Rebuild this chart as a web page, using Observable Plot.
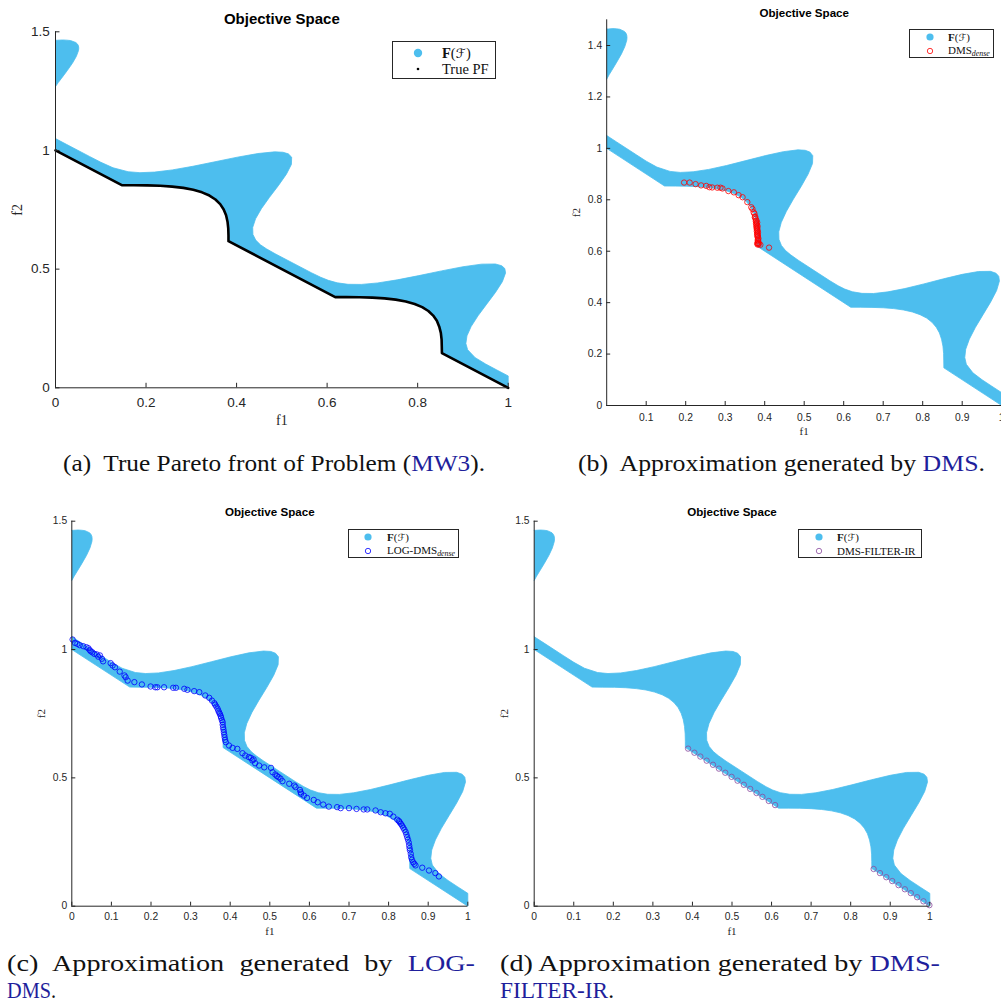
<!DOCTYPE html>
<html>
<head>
<meta charset="utf-8">
<script src="https://cdn.jsdelivr.net/npm/d3@7"></script>
<script src="https://cdn.jsdelivr.net/npm/@observablehq/plot@0.6"></script>
<style>
  html, body { margin: 0; padding: 0; background: #fff; overflow: hidden; }
  #fig { position: relative; width: 1001px; height: 1006px; overflow: hidden; background: #fff; }
  .panel { position: absolute; }
  .panel svg { max-width: none !important; overflow: visible; background: transparent; }
  .legend { position: absolute; box-sizing: border-box; border: 1px solid #262626; background: #fff;
            font-family: "Liberation Serif", "DejaVu Serif", serif; color: #111; }
  .legend .lab { position: absolute; white-space: nowrap; transform: translateY(-50%); line-height: 1; }
  .legend .mk { position: absolute; }
  .legend sub { font-size: 0.72em; font-style: italic; vertical-align: -0.25em; }
  .cal { font-family: "DejaVu Serif", "DejaVu Sans", serif; font-style: italic; font-size: 0.9em; }
  .cap { position: absolute; white-space: nowrap; font-family: "Liberation Serif", "Times New Roman", serif;
         font-size: 24px; line-height: 26px; color: #111; transform-origin: 0 50%; }
  .cap .lk { color: #1f1f9c; }
</style>
</head>
<body>
<div id="fig"></div>
<script>
// ---- feasible objective region (lower edge is the true Pareto front) ----
const pfF1 = [0, 0.1464, 0.1733, 0.2029, 0.2312, 0.2577, 0.2824, 0.3043, 0.3236, 0.34, 0.3533, 0.3638, 0.3715, 0.3768, 0.38, 0.3816, 0.3821, 0.3821,
              0.6179, 0.6421, 0.6716, 0.70, 0.7268, 0.7515, 0.7738, 0.7933, 0.81, 0.8236, 0.8343, 0.8424, 0.8477, 0.8512, 0.8529, 0.8533, 0.8536, 1];
const pfF2 = [1, 0.8536, 0.8533, 0.8529, 0.8512, 0.8477, 0.8424, 0.8343, 0.8236, 0.81, 0.7933, 0.7738, 0.7515, 0.7268, 0.70, 0.6716, 0.6421, 0.6179,
              0.3821, 0.3821, 0.3816, 0.38, 0.3768, 0.3715, 0.3638, 0.3533, 0.34, 0.3236, 0.3043, 0.2824, 0.2577, 0.2312, 0.2029, 0.1733, 0.1464, 0];

// upper edge of the main band, from the f1 = 0 side to the f1 = 1 side
const upperF1 = [0, 0.025, 0.075, 0.1002, 0.1271, 0.1604, 0.1865, 0.2189, 0.2581, 0.3033, 0.3524, 0.4018, 0.4471, 0.4842, 0.5025, 0.5143, 0.5217, 0.5211, 0.51, 0.4926,
                 0.4727, 0.4548, 0.4419, 0.4356, 0.4361, 0.4423, 0.4527, 0.4658, 0.485, 0.525, 0.565, 0.5858, 0.6027, 0.6223, 0.6461, 0.6756, 0.7119, 0.7548, 0.8027, 0.8526,
                 0.90, 0.9411, 0.9717, 0.9857, 0.9925, 0.9942, 0.9871, 0.9718, 0.9524, 0.9333, 0.9181, 0.9089, 0.9065, 0.9104, 0.9271, 0.9502, 0.975, 1];
const upperF2 = [1.05, 1.025, 0.975, 0.9502, 0.9271, 0.9104, 0.9065, 0.9089, 0.9181, 0.9333, 0.9524, 0.9718, 0.9871, 0.9942, 0.9925, 0.9857, 0.9717, 0.9411, 0.90, 0.8526,
                 0.8027, 0.7548, 0.7119, 0.6756, 0.6461, 0.6223, 0.6027, 0.5858, 0.565, 0.525, 0.485, 0.4658, 0.4527, 0.4423, 0.4361, 0.4356, 0.4419, 0.4548, 0.4727, 0.4926,
                 0.51, 0.5211, 0.5217, 0.5143, 0.5025, 0.4842, 0.4471, 0.4018, 0.3524, 0.3033, 0.2581, 0.2189, 0.1865, 0.1604, 0.1271, 0.1002, 0.075, 0.05];

// small disconnected feasible piece near f1 = 0
const islandF1 = [0, 0.006, 0.0127, 0.0256, 0.0373, 0.0459, 0.0508, 0.0514, 0.0507, 0.0485, 0.0449, 0.0332, 0.0248, 0.0157, 0.0045, 0];
const islandF2 = [1.269, 1.286, 1.3027, 1.3356, 1.3673, 1.3959, 1.4208, 1.4314, 1.4407, 1.4485, 1.4549, 1.4632, 1.4648, 1.4657, 1.4645, 1.464];

// ---- solver approximations ----
const dmsF1 = [0.196, 0.210, 0.225, 0.239, 0.252, 0.260, 0.267, 0.280, 0.288, 0.293, 0.308, 0.322, 0.334, 0.344, 0.356, 0.366, 0.369, 0.372, 0.374,
               0.375, 0.376, 0.377, 0.3775, 0.378, 0.379, 0.379, 0.380, 0.380, 0.381, 0.381, 0.382, 0.3825, 0.381, 0.385, 0.382, 0.389, 0.411,
               0.379, 0.381, 0.380, 0.382, 0.381, 0.382, 0.383, 0.382, 0.383, 0.384, 0.383, 0.384, 0.383, 0.384];
const dmsF2 = [0.867, 0.867, 0.861, 0.856, 0.854, 0.849, 0.848, 0.847, 0.847, 0.844, 0.834, 0.829, 0.818, 0.810, 0.791, 0.771, 0.764, 0.751, 0.746,
               0.732, 0.735, 0.726, 0.717, 0.709, 0.701, 0.694, 0.686, 0.678, 0.670, 0.662, 0.655, 0.642, 0.631, 0.629, 0.626, 0.625, 0.614,
               0.720, 0.712, 0.705, 0.697, 0.690, 0.682, 0.674, 0.666, 0.659, 0.650, 0.645, 0.638, 0.632, 0.627];

const logDmsF1 = [0.002, 0.008, 0.014, 0.020, 0.029, 0.037, 0.042, 0.048, 0.057, 0.063, 0.071, 0.076, 0.079, 0.098, 0.103, 0.109, 0.121, 0.133, 0.136, 0.141,
                  0.158, 0.177, 0.199, 0.211, 0.216, 0.233, 0.256, 0.263, 0.284, 0.292, 0.309, 0.322, 0.337, 0.347, 0.354, 0.360, 0.365, 0.370, 0.374, 0.377,
                  0.381, 0.382, 0.384, 0.386, 0.389, 0.397, 0.406, 0.418, 0.431, 0.438, 0.452, 0.456, 0.463, 0.473, 0.486, 0.503, 0.507, 0.514, 0.522, 0.532,
                  0.549, 0.562, 0.576, 0.579, 0.565, 0.578, 0.586, 0.594, 0.611, 0.621, 0.635, 0.649, 0.670, 0.679, 0.700, 0.719, 0.737, 0.746, 0.767, 0.780,
                  0.792, 0.803, 0.812, 0.822, 0.828, 0.834, 0.840, 0.845, 0.849, 0.852, 0.854, 0.857, 0.862, 0.868, 0.885, 0.902, 0.918, 0.927,
                  0.362, 0.368, 0.372, 0.376, 0.379, 0.381, 0.383, 0.385, 0.387, 0.826, 0.831, 0.837, 0.843, 0.847, 0.851, 0.853, 0.856, 0.859, 0.865,
                  0.045, 0.052, 0.067, 0.447, 0.459, 0.527, 0.518];
const logDmsF2 = [1.039, 1.026, 1.022, 1.017, 1.013, 1.009, 1.005, 0.993, 0.983, 0.981, 0.977, 0.964, 0.954, 0.947, 0.938, 0.931, 0.914, 0.899, 0.892, 0.879,
                  0.873, 0.864, 0.856, 0.853, 0.853, 0.853, 0.851, 0.851, 0.847, 0.843, 0.838, 0.834, 0.821, 0.812, 0.801, 0.791, 0.778, 0.762, 0.749, 0.734,
                  0.717, 0.697, 0.678, 0.658, 0.639, 0.626, 0.617, 0.613, 0.596, 0.587, 0.578, 0.568, 0.557, 0.548, 0.541, 0.539, 0.522, 0.513, 0.503, 0.487,
                  0.477, 0.470, 0.453, 0.438, 0.464, 0.444, 0.431, 0.422, 0.414, 0.405, 0.396, 0.388, 0.386, 0.382, 0.382, 0.379, 0.377, 0.377, 0.373, 0.366,
                  0.362, 0.360, 0.349, 0.337, 0.327, 0.314, 0.298, 0.279, 0.259, 0.236, 0.217, 0.191, 0.171, 0.159, 0.150, 0.139, 0.129, 0.116,
                  0.785, 0.770, 0.755, 0.741, 0.725, 0.707, 0.688, 0.668, 0.648, 0.332, 0.321, 0.306, 0.289, 0.269, 0.248, 0.226, 0.204, 0.181, 0.165,
                  0.998, 0.989, 0.972, 0.581, 0.572, 0.497, 0.507];

const filterF1 = [0.389, 0.405, 0.420, 0.436, 0.452, 0.467, 0.483, 0.499, 0.514, 0.530, 0.546, 0.562, 0.577, 0.593, 0.609,
                  0.858, 0.874, 0.890, 0.905, 0.921, 0.937, 0.952, 0.968, 0.984, 0.999];
const filterF2 = [0.614, 0.598, 0.583, 0.567, 0.551, 0.536, 0.520, 0.504, 0.489, 0.473, 0.457, 0.441, 0.426, 0.410, 0.394,
                  0.145, 0.129, 0.113, 0.098, 0.082, 0.066, 0.051, 0.035, 0.019, 0.004];

// ---- axis ticks ----
const ticksAx = [0, 0.2, 0.4, 0.6, 0.8, 1];
const ticksAy = [0, 0.5, 1, 1.5];
const ticksBx = [0.1, 0.2, 0.3, 0.4, 0.5, 0.6, 0.7, 0.8, 0.9, 1];
const ticksBy = [0, 0.2, 0.4, 0.6, 0.8, 1, 1.2, 1.4];
const ticksCx = [0, 0.1, 0.2, 0.3, 0.4, 0.5, 0.6, 0.7, 0.8, 0.9, 1];
const ticksCy = [0, 0.5, 1, 1.5];

// ---- styling ----
const FILL = "#4DBEEE";
const AXIS = "#262626";
const RED = "#FF0000";
const BLUE = "#0000FF";
const PURPLE = "#8a4a9e";
const SANS = '"Liberation Sans", Arial, Helvetica, sans-serif';
const SERIF = '"Liberation Serif", "Times New Roman", serif';

const zip = (a, b) => a.map((v, i) => ({f1: v, f2: b[i]}));
const pf = zip(pfF1, pfF2);
const band = pf.concat(zip(upperF1, upperF2).reverse());
const island = zip(islandF1, islandF2);

const fig = document.getElementById("fig");

function objectivePanel(o) {
  const txt = {lineAnchor: "middle", fill: AXIS};
  const marks = [
    Plot.line(island, {x: "f1", y: "f2", fill: FILL, stroke: FILL, strokeWidth: 0.8}),
    Plot.line(band, {x: "f1", y: "f2", fill: FILL, stroke: FILL, strokeWidth: 0.8}),
    ...o.marks,
    Plot.ruleY([0], {x1: 0, x2: 1, stroke: AXIS, strokeWidth: 1}),
    Plot.ruleX([0], {y1: 0, y2: 1.5, stroke: AXIS, strokeWidth: 1}),
    Plot.ruleX(o.xTicks, {x: d => d, y1: 0, y2: o.xTickLen, stroke: AXIS, strokeWidth: 1}),
    Plot.ruleY(o.yTicks, {y: d => d, x1: 0, x2: o.yTickLen, stroke: AXIS, strokeWidth: 1}),
    Plot.text(o.xTicks, {...txt, x: d => d, frameAnchor: "bottom", dy: o.xLabelDy, textAnchor: "middle",
      text: d => String(d), fontSize: o.tickFont, fontFamily: SANS}),
    Plot.text(o.yTicks, {...txt, y: d => d, frameAnchor: "left", dx: o.yLabelDx, textAnchor: "end",
      text: d => String(d), fontSize: o.tickFont, fontFamily: SANS}),
    Plot.text(["Objective Space"], {...txt, frameAnchor: "top", dy: o.titleDy, textAnchor: "middle", text: d => d,
      fontWeight: "bold", fontSize: o.titleFont, fontFamily: SANS, fill: "#000"}),
    Plot.text(["f1"], {...txt, frameAnchor: "bottom", dy: o.f1Dy, textAnchor: "middle", text: d => d,
      fontSize: o.labelFont, fontFamily: SERIF}),
    Plot.text(["f2"], {...txt, frameAnchor: "left", dx: o.f2Dx, textAnchor: "middle", rotate: -90, text: d => d,
      fontSize: o.labelFont, fontFamily: SERIF})
  ];
  const svg = Plot.plot({
    width: o.width, height: o.height,
    marginLeft: o.ml, marginRight: o.mr, marginTop: o.mt, marginBottom: o.mb,
    x: {domain: [0, 1], axis: null},
    y: {domain: [0, 1.5], axis: null},
    style: {background: "transparent", overflow: "visible", maxWidth: "none"},
    marks
  });
  const wrap = document.createElement("div");
  wrap.className = "panel";
  wrap.style.left = o.left + "px";
  wrap.style.top = o.top + "px";
  wrap.style.width = o.width + "px";
  wrap.style.height = o.height + "px";
  wrap.appendChild(svg);
  fig.appendChild(wrap);
}

function legend(o) {
  const box = document.createElement("div");
  box.className = "legend";
  Object.assign(box.style, {left: o.left + "px", top: o.top + "px", width: o.width + "px", height: o.height + "px", fontSize: o.font + "px"});
  o.rows.forEach(r => {
    const s = 12;
    const mk = document.createElementNS("http://www.w3.org/2000/svg", "svg");
    mk.setAttribute("class", "mk");
    mk.setAttribute("width", s); mk.setAttribute("height", s);
    mk.style.left = (o.markX - s / 2) + "px";
    mk.style.top = (r.y - s / 2) + "px";
    const c = document.createElementNS("http://www.w3.org/2000/svg", "circle");
    c.setAttribute("cx", s / 2); c.setAttribute("cy", s / 2); c.setAttribute("r", r.r);
    c.setAttribute("fill", r.fill); c.setAttribute("stroke", r.stroke); c.setAttribute("stroke-width", r.sw || 0);
    mk.appendChild(c);
    box.appendChild(mk);
    const lab = document.createElement("span");
    lab.className = "lab";
    lab.style.left = o.textX + "px";
    lab.style.top = r.y + "px";
    lab.innerHTML = r.html;
    box.appendChild(lab);
  });
  fig.appendChild(box);
}

const FSET = '<b>F</b>(<span class="cal">ℱ</span>)';
const dot = (data, color) => Plot.dot(zip(...data), {x: "f1", y: "f2", r: 2.7, stroke: color, strokeWidth: 0.8, fill: "none"});

// (a) true Pareto front
objectivePanel({
  left: 0, top: 0, width: 520, height: 440, ml: 55, mr: 12.3, mt: 31.3, mb: 52.7,
  xTicks: ticksAx, yTicks: ticksAy, xTickLen: 0.019, yTickLen: 0.0099,
  tickFont: 13.5, xLabelDy: 15, yLabelDx: -5.7,
  titleFont: 15, titleDy: -12.3, labelFont: 14, f1Dy: 32.7, f2Dx: -38.3,
  marks: [Plot.line(pf, {x: "f1", y: "f2", stroke: "#000", strokeWidth: 2.6, strokeLinejoin: "round"})]
});
legend({left: 392, top: 41, width: 104, height: 38, font: 14.5, markX: 25, textX: 49,
  rows: [{y: 11, r: 4.2, fill: FILL, stroke: "none", html: FSET},
         {y: 27, r: 1.3, fill: "#000", stroke: "none", html: "True PF"}]});

// (b) DMS
objectivePanel({
  left: 560, top: 0, width: 460, height: 445, ml: 46.2, mr: 18.8, mt: 19.3, mb: 40,
  xTicks: ticksBx, yTicks: ticksBy, xTickLen: 0.0156, yTickLen: 0.0101,
  tickFont: 10.3, xLabelDy: 12.3, yLabelDx: -4.5,
  titleFont: 11.6, titleDy: -7, labelFont: 11, f1Dy: 26, f2Dx: -30.2,
  marks: [dot([dmsF1, dmsF2], RED)]
});
legend({left: 909, top: 28.7, width: 85, height: 29.3, font: 11, markX: 19.7, textX: 38,
  rows: [{y: 7.6, r: 3.6, fill: FILL, stroke: "none", html: FSET},
         {y: 21.3, r: 2.7, fill: "none", stroke: RED, sw: 0.8, html: "DMS<sub>dense</sub>"}]});

// (c) LOG-DMS
objectivePanel({
  left: 0, top: 490, width: 500, height: 450, ml: 71.3, mr: 32.7, mt: 30.7, mb: 34.3,
  xTicks: ticksCx, yTicks: ticksCy, xTickLen: 0.0156, yTickLen: 0.0101,
  tickFont: 10.3, xLabelDy: 11, yLabelDx: -4.6,
  titleFont: 11.6, titleDy: -8.7, labelFont: 11, f1Dy: 25.3, f2Dx: -30.6,
  marks: [dot([logDmsF1, logDmsF2], BLUE)]
});
legend({left: 348, top: 528.7, width: 111.3, height: 29.3, font: 11, markX: 18.7, textX: 38,
  rows: [{y: 7.3, r: 3.6, fill: FILL, stroke: "none", html: FSET},
         {y: 21, r: 2.7, fill: "none", stroke: BLUE, sw: 0.8, html: "LOG-DMS<sub>dense</sub>"}]});

// (d) DMS-FILTER-IR
objectivePanel({
  left: 500, top: 490, width: 501, height: 450, ml: 33.7, mr: 71.7, mt: 30.7, mb: 34.3,
  xTicks: ticksCx, yTicks: ticksCy, xTickLen: 0.0156, yTickLen: 0.0101,
  tickFont: 10.3, xLabelDy: 11, yLabelDx: -4.6,
  titleFont: 11.6, titleDy: -8.7, labelFont: 11, f1Dy: 25.3, f2Dx: -29.7,
  marks: [dot([filterF1, filterF2], PURPLE)]
});
legend({left: 798.3, top: 528.7, width: 123.4, height: 29.3, font: 11, markX: 19.4, textX: 37.7,
  rows: [{y: 7.3, r: 3.6, fill: FILL, stroke: "none", html: FSET},
         {y: 21, r: 2.7, fill: "none", stroke: PURPLE, sw: 0.8, html: "DMS-FILTER-IR"}]});

// ---- sub-figure captions ----
// "fit" lines are scaled to their own width; the justified line widens its word gaps
const captions = [
  {row: "top", fit: true, x: 63, y: 463, w: 422, html: '(a)&nbsp; True Pareto front of Problem (<span class="lk">MW3</span>).'},
  {row: "top", fit: true, x: 578, y: 463, w: 407, html: '(b)&nbsp; Approximation generated by <span class="lk">DMS</span>.'},
  {row: "bottom", just: true, x: 7, y: 963, w: 468, html: '(c) Approximation generated by <span class="lk">LOG-</span>'},
  {row: "bottom", fit: true, x: 7, y: 990, w: 49, html: '<span class="lk">DMS</span>.'},
  {row: "bottom", fit: true, ref: true, x: 500, y: 963, w: 440, html: '(d) Approximation generated by <span class="lk">DMS-</span>'},
  {row: "bottom", fit: true, x: 500, y: 990, w: 114, html: '<span class="lk">FILTER-IR</span>.'}
];
const capEls = captions.map(c => {
  const el = document.createElement("div");
  el.className = "cap";
  el.style.left = c.x + "px";
  el.style.top = (c.y - 13) + "px";
  el.innerHTML = c.html;
  fig.appendChild(el);
  return el;
});
const natural = capEls.map(el => el.getBoundingClientRect().width);
const refIdx = captions.findIndex(c => c.ref);
const bottomScale = captions[refIdx].w / natural[refIdx];
captions.forEach((c, i) => {
  const el = capEls[i];
  let k = c.fit ? c.w / natural[i] : bottomScale;
  if (c.just) {
    const extra = c.w / k - natural[i];
    if (extra > 0) el.style.wordSpacing = (extra / 4) + "px";
  }
  el.style.transform = "scaleX(" + k + ")";
});
</script>
</body>
</html>
